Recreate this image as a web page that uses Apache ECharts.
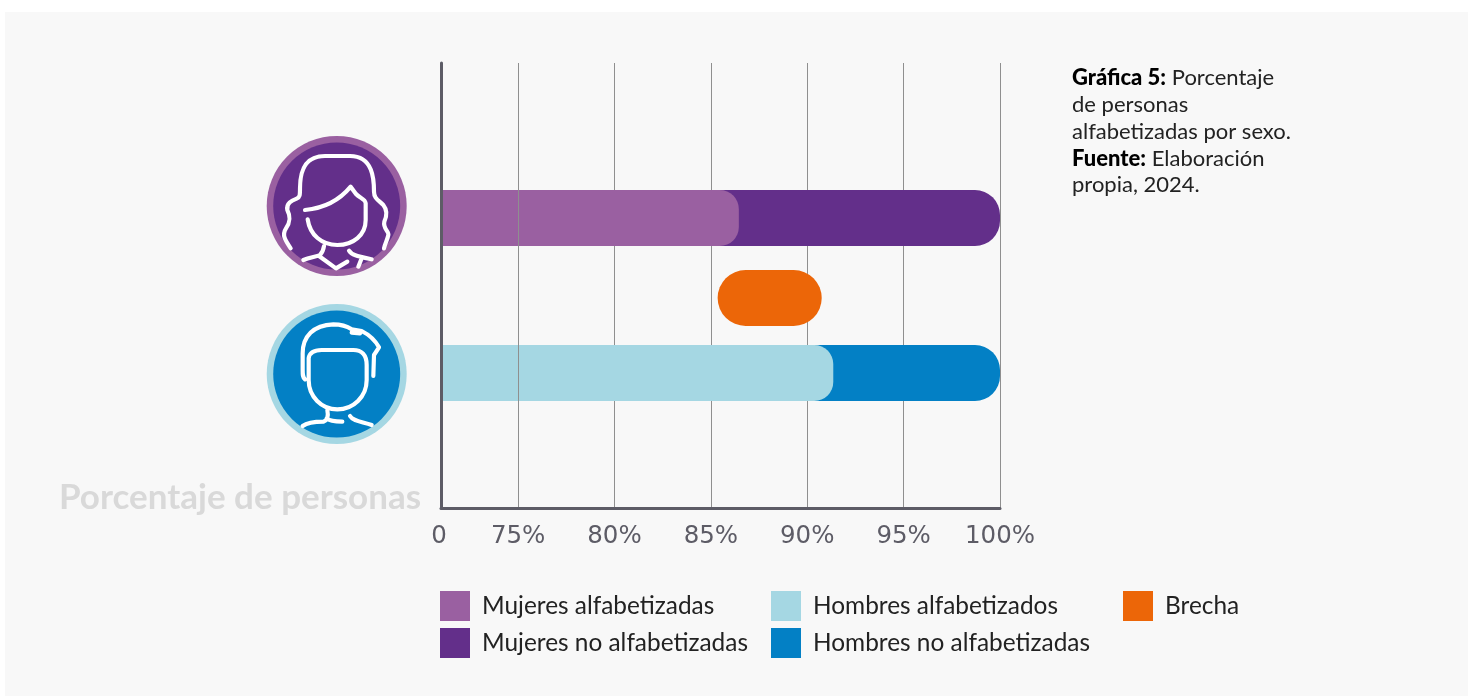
<!DOCTYPE html>
<html><head><meta charset="utf-8">
<style>html,body{margin:0;padding:0;background:#fff}#c{width:1468px;height:696px}</style>
<script src="https://cdn.jsdelivr.net/npm/echarts@6/dist/echarts.min.js"></script></head>
<body><div id="c"></div><script>
const rows = ['Mujeres', 'Hombres'];
const mujeresAlfabetizadas = [86.45, null];
const mujeresNoAlfabetizadas = [100, null];
const hombresAlfabetizados = [null, 91.35];
const hombresNoAlfabetizadas = [null, 100];
const brechaInicio = [85.35];
const brechaAncho = [5.4];
const ejeMin = 0, ejeMax = 100, corteFin = 75;
const FONT = 'Lato, "Noto Sans", sans-serif';

const hiddenX = i => ({type:'value',gridIndex:i,min:ejeMin,max:ejeMax,show:false,
  breaks:[{start:ejeMin,end:corteFin,gap:'13.8%'}],breakArea:{show:false}});
const womanIcon = 'M122 385C105 360 95 345 108 325C122 305 122 290 112 270C108 250 125 242 140 236C150 232 150 225 150 205C150 180 150 108 225 108L300 108C370 108 372 180 372 215C372 235 385 240 400 255C412 270 412 285 403 305C398 325 418 335 415 345C412 360 405 370 402 385'
 +'M165 270C220 265 265 245 302 200L318 222C330 235 345 235 347 250L347 300C347 345 310 375 262 375C215 375 180 345 173 298'
 +'M160 420C180 412 200 410 210 405C215 400 220 392 222 378M207 408L258 445L292 425M297 392C305 405 320 408 365 418M335 415L325 440';
const manIcon = 'M165 268C158 262 158 255 158 240L158 190C158 140 190 105 250 103C270 103 290 108 305 118L335 123C355 133 375 150 387 172L372 195L370 258M305 128L330 130'
 +'M176 270L176 205C178 190 190 180 215 180L310 180C335 180 350 195 350 225L350 270C350 320 310 358 262 358C215 358 176 320 176 270'
 +'M158 408C175 395 200 395 220 395C235 390 235 375 232 360M230 385C240 395 260 395 277 395M300 378C310 395 340 395 365 405';
echarts.graphic.registerShape('womanIcon', echarts.graphic.extendPath(womanIcon, {}));
echarts.graphic.registerShape('manIcon', echarts.graphic.extendPath(manIcon, {}));
const icon = (cy, ring, fill, type, ox, oy) => [
  {type:'circle',z:3,shape:{cx:336.7,cy,r:70},style:{fill:ring}},
  {type:'circle',z:3,shape:{cx:336.7,cy,r:63.5},style:{fill}},
  {type,z:4,x:ox,y:oy,scaleX:1/3,scaleY:1/3,
   style:{fill:null,stroke:'#fff',lineWidth:12.5,lineCap:'round',lineJoin:'round'}}
];
const legendBase = {orient:'vertical',itemWidth:30,itemHeight:30,itemGap:7,icon:'rect',selectedMode:false,top:591,padding:0,
  textStyle:{fontFamily:FONT,fontSize:24.4,color:'#222',padding:[0,0,2,7]}};
const bar = (name,color,data,radius,z) => ({name,type:'bar',xAxisIndex:1,yAxisIndex:1,data,barWidth:56,barGap:'-100%',z,silent:true,
  itemStyle:{color,borderRadius:[0,radius,radius,0]}});

const chart = echarts.init(document.getElementById('c'),null,{renderer:'canvas'});
chart.setOption({
  animation:false,backgroundColor:'#fff',
  title:{left:1067,top:60,text:'{b|Gráfica 5:} Porcentaje\nde personas\nalfabetizadas por sexo.\n{b|Fuente:} Elaboración\npropia, 2024.',
    textStyle:{fontFamily:FONT,fontSize:22,fontWeight:'normal',color:'#222',lineHeight:26.75,
      rich:{b:{fontFamily:FONT,fontSize:22,fontWeight:900,color:'#000',lineHeight:26.75}}}},
  legend:[
    {...legendBase,left:440,data:['Mujeres alfabetizadas','Mujeres no alfabetizadas']},
    {...legendBase,left:771,data:['Hombres alfabetizados','Hombres no alfabetizadas']},
    {...legendBase,left:1123,data:['Brecha']}
  ],
  grid:[
    {left:441,width:559,top:63,height:445},
    {left:441,width:559,top:140.5,height:310},
    {left:441,width:559,top:270,height:56}
  ],
  xAxis:[
    {type:'value',gridIndex:0,min:ejeMin,max:ejeMax,interval:5,z:0,
     breaks:[{start:ejeMin,end:corteFin,gap:'13.8%'}],breakArea:{show:false},
     axisLine:{show:false},axisTick:{show:false},
     splitLine:{show:true,lineStyle:{color:'#8f8f8f',width:1,type:'solid'}},
     axisLabel:{fontFamily:'"DejaVu Sans",sans-serif',fontSize:24.5,color:'#5d5c66',margin:16,hideOverlap:false,showMinLabel:true,showMaxLabel:true,
       rich:{z:{fontFamily:'"DejaVu Sans",sans-serif',fontSize:24.5,color:'#5d5c66',padding:[0,4,0,0]}},
       formatter:v=>v===0?'{z|0}':v+'%'}},
    hiddenX(1),hiddenX(2),
    {type:'value',gridIndex:0,min:ejeMin,max:ejeMax,position:'bottom',z:5,
     axisLine:{show:true,lineStyle:{color:'#5d5c66',width:3}},axisTick:{show:false},axisLabel:{show:false},splitLine:{show:false}}
  ],
  yAxis:[
    {type:'value',gridIndex:0,z:5,min:0,max:1,axisLine:{show:true,lineStyle:{color:'#5d5c66',width:3}},axisTick:{show:false},axisLabel:{show:false},splitLine:{show:false}},
    {type:'category',gridIndex:1,data:rows,inverse:true,show:false},
    {type:'category',gridIndex:2,data:['Brecha'],show:false}
  ],
  series:[
    {name:'corte',type:'line',xAxisIndex:0,yAxisIndex:0,data:[],silent:true,z:1,
     markLine:{silent:true,symbol:'none',label:{show:false},animation:false,lineStyle:{color:'#8f8f8f',width:1,type:'solid'},data:[{xAxis:corteFin}]}},
    bar('Mujeres no alfabetizadas','#632f8a',mujeresNoAlfabetizadas,25,2),
    bar('Mujeres alfabetizadas','#9a60a1',mujeresAlfabetizadas,19,3),
    bar('Hombres no alfabetizadas','#0380c5',hombresNoAlfabetizadas,25,2),
    bar('Hombres alfabetizados','#a5d7e3',hombresAlfabetizados,19,3),
    {name:'brechaBase',type:'bar',xAxisIndex:2,yAxisIndex:2,stack:'b',barWidth:56,silent:true,data:brechaInicio,itemStyle:{color:'transparent'}},
    {name:'Brecha',type:'bar',xAxisIndex:2,yAxisIndex:2,stack:'b',barWidth:56,silent:true,data:brechaAncho,itemStyle:{color:'#ec6608',borderRadius:28}}
  ],
  graphic:[
    {type:'rect',z:-10,silent:true,shape:{x:5,y:12,width:1463,height:684},style:{fill:'#f8f8f8'}},
    {type:'text',z:3,x:59,y:480,style:{text:'Porcentaje de personas',fontFamily:FONT,fontSize:35,fontWeight:'bold',fill:'#d9d9d9'}},
    ...icon(206,'#9a60a1','#632f8a','womanIcon',250,120),
    ...icon(374,'#a5d7e3','#0380c5','manIcon',250,290)
  ]
});
</script></body></html>
